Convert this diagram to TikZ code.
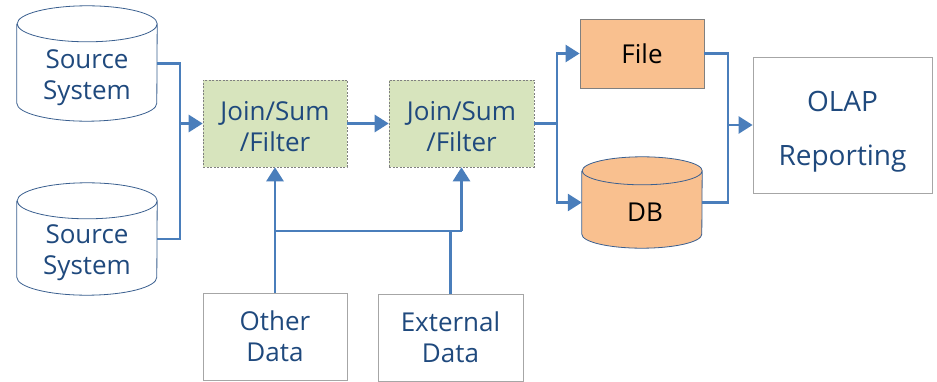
\documentclass[tikz,border=0pt]{standalone}
\usepackage{fontspec}
\setmainfont{Open Sans}
\usetikzlibrary{arrows.meta}
\definecolor{flowblue}{HTML}{4A7EBB}
\definecolor{textblue}{HTML}{1F497D}
\definecolor{rimblue}{HTML}{3A5F8F}
\definecolor{stepgreen}{HTML}{D7E4BD}
\definecolor{storeorange}{HTML}{F9C08F}
\tikzset{
  flow/.style={draw=flowblue, line width=2.6pt},
  arr/.style={flow, -{Triangle[length=14pt,width=17pt]}},
  drum/.style={inner sep=0pt, minimum width=140pt},
  rim/.style={draw=rimblue, line width=0.8pt},
  cyltext/.style={text=textblue, align=center},
  joinbox/.style={draw=gray, dash pattern=on 2pt off 1.5pt, line width=0.6pt, fill=stepgreen, text=textblue,
    align=center, minimum width=144pt, minimum height=87pt},
  databox/.style={draw=gray!70, line width=0.8pt, text=textblue, align=center,
    minimum height=87pt},
}
\begin{document}
\begin{tikzpicture}[x=1pt,y=-1pt,font=\fontsize{26}{31}\selectfont]
\useasboundingbox (0,0) rectangle (937,382);
% sources
\node[drum, minimum height=115pt] (src1) at (87,63.5) {};
\draw[rim] ([yshift=-18pt]src1.north west) -- ([yshift=18pt]src1.south west)
  arc[start angle=180,end angle=360,x radius=70pt,y radius=18pt] -- ([yshift=-18pt]src1.north east)
  arc[start angle=0,end angle=180,x radius=70pt,y radius=18pt]
  arc[start angle=180,end angle=360,x radius=70pt,y radius=18pt];
\node[cyltext] (src1text) at (87,78) {Source\\System};
\node[drum, minimum height=112pt] (src2) at (87,239) {};
\draw[rim] ([yshift=-18pt]src2.north west) -- ([yshift=18pt]src2.south west)
  arc[start angle=180,end angle=360,x radius=70pt,y radius=18pt] -- ([yshift=-18pt]src2.north east)
  arc[start angle=0,end angle=180,x radius=70pt,y radius=18pt]
  arc[start angle=180,end angle=360,x radius=70pt,y radius=18pt];
\node[cyltext] (src2text) at (87,253) {Source\\System};
% processing steps
\node[joinbox] (join1) at (275,123.5) {\rule{0pt}{26pt}Join/Sum\\/Filter};
\node[joinbox, minimum width=145pt] (join2) at (461.5,123.5) {\rule{0pt}{26pt}Join/Sum\\/Filter};
% extra inputs
\node[databox, minimum width=144pt] (other) at (275,336.5) {Other\\Data};
\node[databox, minimum width=145pt] (ext) at (450.5,337.5) {External\\Data};
% targets
\node[draw=gray, line width=0.8pt, fill=storeorange, minimum width=124pt, minimum height=69pt] (file) at (642,53.5) {File};
\node[drum, minimum width=120pt, minimum height=91pt] (db) at (642,202.5) {};
\draw[rim, fill=storeorange] ([yshift=-14pt]db.north west) -- ([yshift=14pt]db.south west)
  arc[start angle=180,end angle=360,x radius=60pt,y radius=14pt] -- ([yshift=-14pt]db.north east)
  arc[start angle=0,end angle=180,x radius=60pt,y radius=14pt]
  arc[start angle=180,end angle=360,x radius=60pt,y radius=14pt];
\node (dbtext) at (645,212) {DB};
\node[databox, minimum width=179pt, minimum height=136pt, font=\fontsize{28}{54}\selectfont] (olap) at (842.5,125) {\rule{0pt}{33pt}OLAP\\Reporting};
% connectors
\coordinate (merge1) at (180,123.5);
\draw[flow] (src1.east) -| (merge1);
\draw[flow] (src2.east) -| (merge1);
\draw[arr] (merge1) -- (join1.west);
\draw[arr] (join1) -- (join2);
\coordinate (busL) at (275,231);
\coordinate (busR) at (461.5,231);
\draw[flow] (other.north) -- (busL) -- (busR);
\draw[arr] (busL) -- (join1.south);
\draw[arr] (busR) -- (join2.south);
\draw[flow] (ext.north) -- (ext.north |- busL);
\coordinate (split) at (557,123.5);
\draw[flow] (join2.east) -- (split);
\draw[arr] (split) |- (file.west);
\draw[arr] (split) |- (db.west);
\coordinate (merge2) at (728,125);
\draw[flow] (file.east) -| (merge2);
\draw[flow] (db.east) -| (merge2);
\draw[arr] (merge2) -- (olap.west);
\end{tikzpicture}
\end{document}
